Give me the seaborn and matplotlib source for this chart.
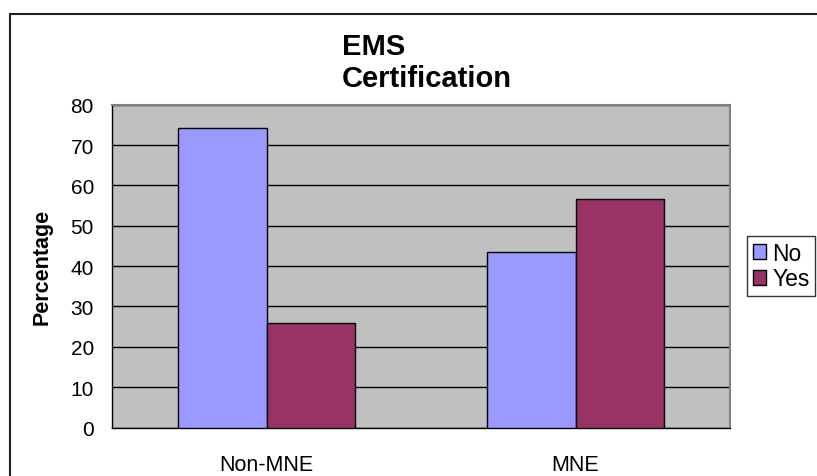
import matplotlib
matplotlib.use("Agg")
import matplotlib.pyplot as plt
from matplotlib.patches import Rectangle, Patch
import seaborn as sns
import pandas as pd

# Share of firms with / without EMS certification, by firm type
categories = ["Non-MNE", "MNE"]
no_values = [74.2, 43.4]
yes_values = [25.8, 56.6]
series_names = ["No", "Yes"]
y_ticks = [0, 10, 20, 30, 40, 50, 60, 70, 80]

df = pd.DataFrame({
    "group": categories * 2,
    "answer": [series_names[0]] * len(categories) + [series_names[1]] * len(categories),
    "pct": no_values + yes_values,
})

sns.set_theme(style="white")
plt.rcParams["font.family"] = ["Liberation Sans", "DejaVu Sans"]
plt.rcParams["text.color"] = "black"
plt.rcParams["axes.labelcolor"] = "black"
plt.rcParams["xtick.color"] = "black"
plt.rcParams["ytick.color"] = "black"

colors = {"No": "#9999FF", "Yes": "#993366"}

fig = plt.figure(figsize=(8.17, 4.77), dpi=100)
ax = fig.add_axes([112 / 817, 1 - 428.5 / 477, (730 - 112) / 817, (428.5 - 105.7) / 477])
ax.set_facecolor("#C0C0C0")

sns.barplot(data=df, x="group", y="pct", hue="answer", order=categories,
            hue_order=series_names, palette=colors, width=0.574,
            edgecolor="black", linewidth=1.0, saturation=1, ax=ax,
            legend=False, zorder=3)

ax.set_xlim(-0.5, 1.5)
ax.set_ylim(0, 80)
ax.set_yticks(y_ticks)
ax.set_yticklabels([str(v) for v in y_ticks], fontsize=15)
ax.yaxis.grid(True, color="black", linewidth=1.0, zorder=1)
ax.set_axisbelow(True)

# category labels centred, tick marks at category boundaries
ax.set_xticks([0, 1])
ax.set_xticklabels(categories, fontsize=15.5)
ax.set_xticks([-0.5, 0.5, 1.5], minor=True)
ax.tick_params(axis="x", which="major", length=0, pad=19)
ax.tick_params(axis="x", which="minor", length=6, width=1, color="black", direction="out")
ax.tick_params(axis="y", which="major", length=6, width=1, color="black", direction="out", pad=7)

ax.set_xlabel("")
ax.set_ylabel("Percentage", fontsize=15.5, fontweight="bold", labelpad=13)

for side in ("left", "bottom"):
    ax.spines[side].set_color("black")
    ax.spines[side].set_linewidth(1.0)
for side in ("top", "right"):
    ax.spines[side].set_color("#808080")
    ax.spines[side].set_linewidth(1.5)
    ax.spines[side].set_visible(True)

fig.text(342 / 817, 1 - 33 / 477, "EMS\nCertification", fontsize=21,
         fontweight="bold", ha="left", va="top", linespacing=1.2)

handles = [Patch(facecolor=colors[n], edgecolor="black", linewidth=1.0, label=n)
           for n in series_names]
leg = fig.legend(handles=handles, loc="upper left",
                 bbox_to_anchor=(747 / 817, 1 - 237 / 477), fontsize=16.5,
                 frameon=True, fancybox=False, borderpad=0.25,
                 handlelength=0.6, handleheight=0.6, handletextpad=0.25,
                 labelspacing=0.12, borderaxespad=0)
leg.get_frame().set_edgecolor("black")
leg.get_frame().set_linewidth(1.0)

# outer chart frame
fig.patches.append(Rectangle((9.5 / 817, -0.05), 1.2, 1 - 14.5 / 477 + 0.05,
                             transform=fig.transFigure, fill=False,
                             edgecolor="#202020", linewidth=1.5))

fig.savefig("out.png", dpi=100)
